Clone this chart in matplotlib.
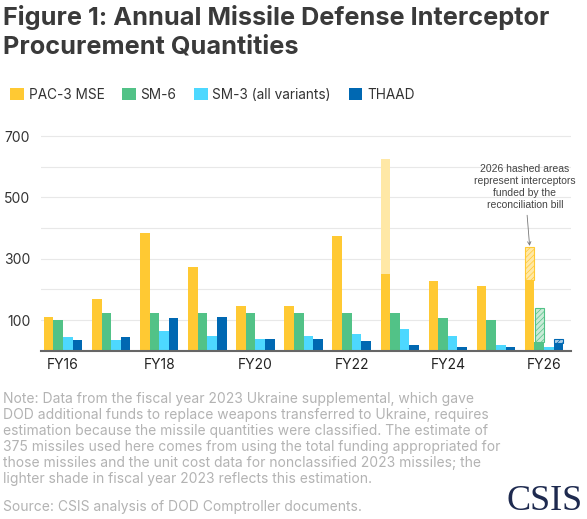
import numpy as np
import matplotlib.pyplot as plt
from matplotlib.patches import Patch

# === Data ===
years = ["FY16", "FY17", "FY18", "FY19", "FY20", "FY21", "FY22", "FY23", "FY24", "FY25", "FY26"]
pac3 = [111, 169, 384, 273, 146, 146, 374, 250, 228, 210, 230]
sm6 = [100, 124, 124, 124, 124, 124, 124, 124, 107, 101, 27]
sm3 = [45, 35, 63, 48, 38, 48, 56, 71, 47, 18, 13]
thaad = [35, 46, 108, 110, 38, 38, 31, 18, 11, 11, 26]

# FY23 Ukraine supplemental estimate (lighter shade on PAC-3)
pac3_fy23_est = 375
# FY26 reconciliation bill (hatched)
pac3_recon = 109
sm6_recon = 111
thaad_recon = 12

series_names = ["PAC-3 MSE", "SM-6", "SM-3 (all variants)", "THAAD"]
colors = ["#FFC933", "#52C287", "#4DD8FF", "#0068B2"]
light_colors = ["#FFE8A6", "#C9EBD7", "#B8F0FF", "#A8CCE8"]

FONT = ["Inter", "DejaVu Sans"]

W, H = 587, 519
fig = plt.figure(figsize=(W / 100, H / 100), dpi=100)

y_top = 710
px_per_unit = 0.3065
ax_left, ax_right = 41.4, 570.5
ax_bottom = 350.7
ax_h = y_top * px_per_unit
ax = fig.add_axes([ax_left / W, (H - ax_bottom) / H, (ax_right - ax_left) / W, ax_h / H])

x = np.arange(len(years))
bw = 0.2
offsets = [-1.5 * bw, -0.5 * bw, 0.5 * bw, 1.5 * bw]
all_series = [pac3, sm6, sm3, thaad]

for vals, off, c in zip(all_series, offsets, colors):
    ax.bar(x + off, vals, width=bw, color=c, linewidth=0, zorder=3)

# FY23 estimate, lighter shade
i23 = years.index("FY23")
ax.bar(x[i23] + offsets[0], pac3_fy23_est, width=bw, bottom=pac3[i23],
       color=light_colors[0], linewidth=0, zorder=3)

# FY26 reconciliation, hatched
i26 = years.index("FY26")
plt.rcParams['hatch.linewidth'] = 0.5
recon = [(0, pac3_recon, pac3), (1, sm6_recon, sm6), (3, thaad_recon, thaad)]
for k, extra, base in recon:
    ax.bar(x[i26] + offsets[k], extra, width=bw * 0.92, bottom=base[i26],
           facecolor=light_colors[k], edgecolor=colors[k], hatch="//////",
           linewidth=0.8, zorder=3)

ax.set_xlim(-0.45, len(years) - 0.45)
ax.set_ylim(0, y_top)
ax.set_yticks([100, 300, 500, 700])
ax.set_yticks([200, 400, 600], minor=True)
ax.tick_params(axis="y", which="both", length=0, pad=8, labelsize=10, labelcolor="#333333")
ax.set_xticks(x[::2])
ax.set_xticklabels(years[::2])
ax.tick_params(axis="x", length=0, pad=5, labelsize=10, labelcolor="#222222")
for lab in ax.get_xticklabels() + ax.get_yticklabels():
    lab.set_family(FONT)
ax.grid(axis="y", which="both", color="#E8E8E8", linewidth=0.8, zorder=0)
for s in ["top", "right", "left"]:
    ax.spines[s].set_visible(False)
ax.spines["bottom"].set_color("#666666")
ax.spines["bottom"].set_linewidth(1.5)
ax.spines["bottom"].set_zorder(4)

# annotation for the hatched areas
ax.annotate("2026 hashed areas\nrepresent interceptors\nfunded by the\nreconciliation bill",
            xy=(x[i26] + offsets[0], pac3[i26] + pac3_recon + 3),
            xytext=(x[i26] - 0.4, 460), textcoords="data",
            ha="center", va="bottom", fontsize=7.5, color="#444444",
            family=["Liberation Sans", "DejaVu Sans"], linespacing=1.25,
            arrowprops=dict(arrowstyle="->", color="#777777", lw=0.6,
                            shrinkA=2, shrinkB=0, mutation_scale=6))

# title
fig.text(3 / W, 1 - 5 / H, "Figure 1: Annual Missile Defense Interceptor\nProcurement Quantities",
         ha="left", va="top", fontsize=18.2, fontweight="bold", color="#3A3A3A",
         family=FONT, linespacing=1.3)

# legend
handles = [Patch(facecolor=c, edgecolor="none") for c in colors]
fig.legend(handles, series_names, loc="center left", bbox_to_anchor=(-2 / W, 1 - 95 / H),
           ncol=4, frameon=False, handlelength=1.0, handleheight=1.0, handletextpad=0.35,
           columnspacing=1.3, prop={"family": FONT, "size": 9.8},
           labelcolor="#333333")

# note and source
note = ("Note: Data from the fiscal year 2023 Ukraine supplemental, which gave\n"
        "DOD additional funds to replace weapons transferred to Ukraine, requires\n"
        "estimation because the missile quantities were classified. The estimate of\n"
        "375 missiles used here comes from using the total funding appropriated for\n"
        "those missiles and the unit cost data for nonclassified 2023 missiles; the\n"
        "lighter shade in fiscal year 2023 reflects this estimation.")
fig.text(3 / W, 1 - 392 / H, note, ha="left", va="top", fontsize=10, color="#B3B3B3",
         family=FONT, linespacing=1.18)
fig.text(3 / W, 1 - 507 / H, "Source: CSIS analysis of DOD Comptroller documents.",
         ha="left", va="center", fontsize=10, color="#B3B3B3", family=FONT)

fig.text(583 / W, 1 - 510 / H, "CSIS", ha="right", va="baseline", fontsize=26,
         color="#1E2A4F", family=["Liberation Serif", "DejaVu Serif"])

fig.savefig("out.png", dpi=100, facecolor="white")
